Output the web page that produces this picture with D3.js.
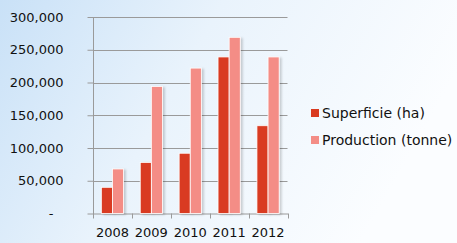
<!DOCTYPE html>
<html><head><meta charset="utf-8">
<script src="https://cdn.jsdelivr.net/npm/d3@7"></script>
<style>body{margin:0;overflow:hidden}svg{display:block}</style>
</head><body>
<svg id="c" width="457" height="243"></svg>
<script>
const years = ["2008","2009","2010","2011","2012"];
const superficie = [40000, 78000, 92000, 239000, 134000];
const production = [68000, 194000, 222000, 269000, 239000];
const seriesNames = ["Superficie (ha)", "Production (tonne)"];
const seriesColors = ["#d93a20", "#f48d86"];
const yTicks = [0, 50000, 100000, 150000, 200000, 250000, 300000];

const svg = d3.select("#c");
const defs = svg.append("defs");
const g1 = defs.append("linearGradient").attr("id","bg").attr("x1","0").attr("y1","0").attr("x2","1").attr("y2","0.3");
g1.append("stop").attr("offset","0").attr("stop-color","#c9e1f7");
g1.append("stop").attr("offset","0.45").attr("stop-color","#e9f3fc");
g1.append("stop").attr("offset","1").attr("stop-color","#fbfdff");
const f = defs.append("filter").attr("id","sh").attr("x","-20%").attr("y","-10%").attr("width","160%").attr("height","130%");
f.append("feDropShadow").attr("dx",2).attr("dy",1).attr("stdDeviation",1.2).attr("flood-color","#000").attr("flood-opacity",0.18);

svg.append("rect").attr("width",457).attr("height",243).attr("fill","url(#bg)");

const x0 = d3.scaleBand().domain(years).range([93, 287.5]).paddingInner(0).paddingOuter(0);
const x1 = d3.scaleBand().domain([0,1]).range([0, x0.bandwidth()]).paddingInner(0).paddingOuter(0.75);
const y = d3.scaleLinear().domain([0, 300000]).range([213.5, 17]);

const font = "DejaVu Sans";
// gridlines
svg.append("g").selectAll("line").data(yTicks.slice(1)).join("line")
  .attr("x1", 93).attr("x2", 287.5).attr("y1", d=>Math.round(y(d))+0.5).attr("y2", d=>Math.round(y(d))+0.5)
  .attr("stroke","#9a9a9a").attr("stroke-width",1);

// y axis
const yAxis = d3.axisLeft(y).tickValues(yTicks).tickSize(6).tickPadding(24)
  .tickFormat(d => d === 0 ? "-" : d3.format(",")(d));
const ya = svg.append("g").attr("transform","translate(93.5,0)").call(yAxis);
ya.select(".domain").attr("stroke","#9a9a9a").attr("d","M0,17V214");
ya.selectAll(".tick line").attr("stroke","#9a9a9a").attr("x2",-6);
ya.selectAll(".tick text").attr("font-family",font).attr("font-size","13px").attr("fill","#111")
  .attr("x", -30);
ya.selectAll(".tick").filter(d=>d===0).select("text").attr("x",-40);

// x axis
const xa = svg.append("g").attr("transform","translate(0,213.5)").call(d3.axisBottom(x0).tickSize(0).tickPadding(14));
xa.select(".domain").attr("stroke","#9a9a9a");
xa.selectAll(".tick text").attr("font-family",font).attr("font-size","13px").attr("fill","#111");
xa.append("g").selectAll("line").data(d3.range(years.length+1)).join("line")
  .attr("x1", i => Math.round(x0.range()[0] + i*x0.step())+0.5)
  .attr("x2", i => Math.round(x0.range()[0] + i*x0.step())+0.5)
  .attr("y1",0).attr("y2",5).attr("stroke","#9a9a9a");

// bars
const data = years.map((yr,i)=>({yr, vals:[superficie[i], production[i]]}));
const grp = svg.append("g").selectAll("g").data(data).join("g")
  .attr("transform", d=>`translate(${x0(d.yr)},0)`);
grp.selectAll("rect").data(d=>d.vals.map((v,k)=>({v,k}))).join("rect")
  .attr("x", d=>x1(d.k)).attr("width", x1.bandwidth())
  .attr("y", d=>y(d.v)).attr("height", d=>y(0)-y(d.v))
  .attr("fill", d=>seriesColors[d.k]).attr("stroke","#fff").attr("stroke-width",0.8)
  .attr("filter","url(#sh)");

// legend
const lg = svg.append("g").attr("transform","translate(311,0)");
const items = lg.selectAll("g").data(seriesNames).join("g")
  .attr("transform",(d,i)=>`translate(0,${113 + i*27})`);
items.append("rect").attr("x",0).attr("y",-4).attr("width",8).attr("height",8).attr("fill",(d,i)=>seriesColors[i]);
items.append("text").attr("x",11).attr("y",0).attr("dy","0.35em").attr("font-family",font).attr("font-size","14px").attr("fill","#111").text(d=>d);
</script>
</body></html>
